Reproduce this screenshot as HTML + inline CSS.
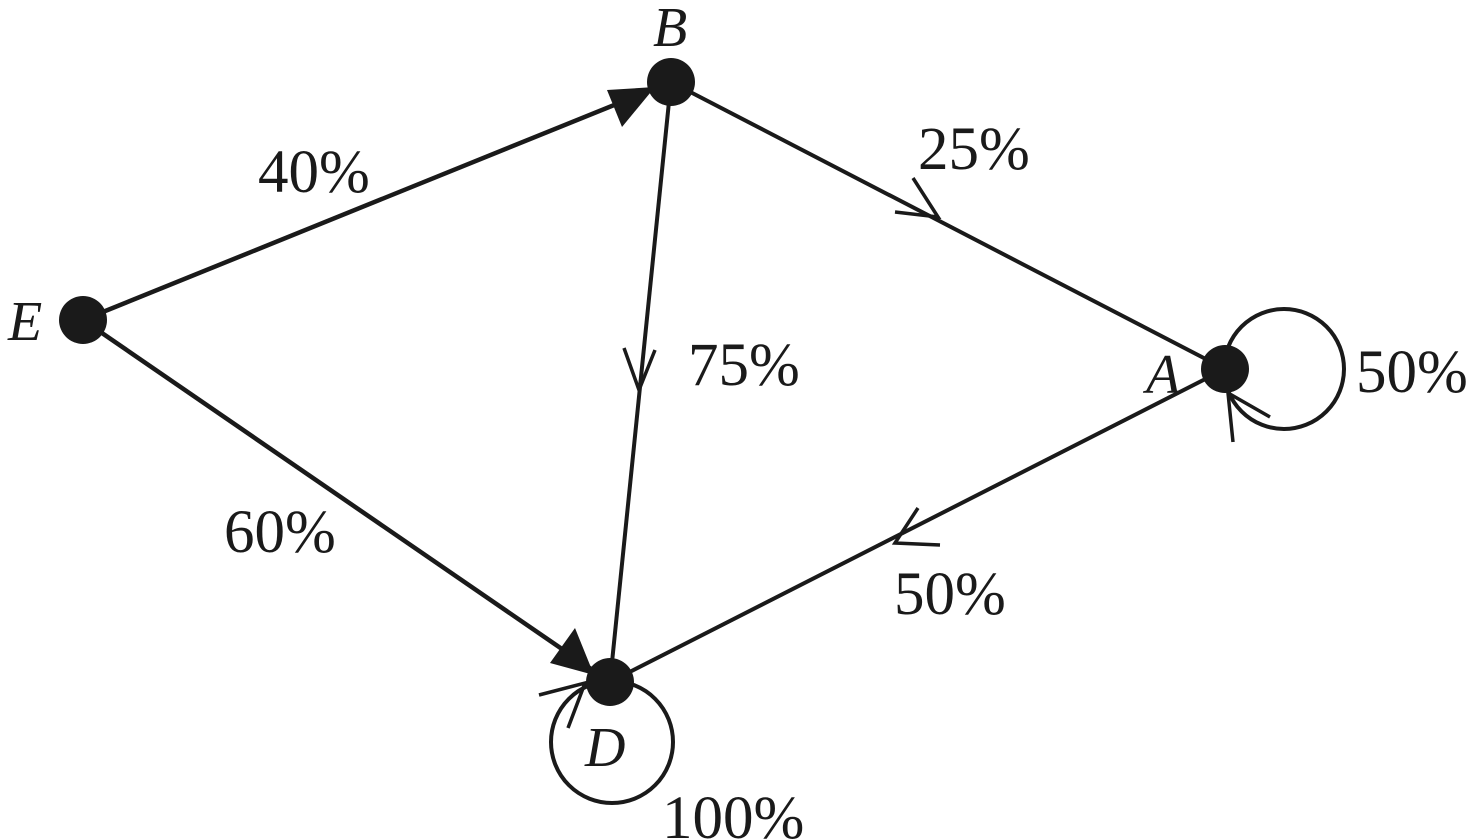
<!DOCTYPE html>
<html><head><style>body{margin:0;background:#fff}svg{display:block}</style></head><body>
<svg width="1474" height="840" viewBox="0 0 1474 840" xmlns="http://www.w3.org/2000/svg">
<g stroke="#1a1a1a" stroke-width="4.5" fill="none">
<line x1="83" y1="320" x2="671" y2="82"/>
<line x1="83" y1="320" x2="610" y2="682"/>
<line x1="671" y1="82" x2="610" y2="682" stroke-width="4"/>
<line x1="671" y1="82" x2="1225" y2="369" stroke-width="4"/>
<line x1="1225" y1="369" x2="610" y2="682" stroke-width="4"/>
<circle cx="1284" cy="369" r="60" stroke-width="4"/>
<circle cx="612" cy="742" r="61" stroke-width="4"/>
<polyline points="895,212 938,217 913,178" stroke-width="3.5"/>
<polyline points="624,348 639,390 655,350" stroke-width="3.5"/>
<polyline points="918,508 895,543 940,545" stroke-width="3.5"/>
<polyline points="1270,417 1228,393 1233,442" stroke-width="3.5"/>
<polyline points="539,695 585,683 568,728" stroke-width="3.5"/>
</g>
<polygon points="655,87 622,127 607,90" fill="#1a1a1a"/>
<polygon points="594,675 550,663 575,628" fill="#1a1a1a"/>
<g fill="#1a1a1a">
<circle cx="83" cy="320" r="24"/>
<circle cx="671" cy="82" r="24"/>
<circle cx="1225" cy="369" r="24"/>
<circle cx="610" cy="682" r="24"/>
</g>
<g font-family="Liberation Serif, serif" font-size="61" fill="#1a1a1a">
<text x="258" y="192">40%</text>
<text x="918" y="169">25%</text>
<text x="688" y="385">75%</text>
<text x="1356" y="392">50%</text>
<text x="224" y="552">60%</text>
<text x="894" y="614">50%</text>
<text x="662" y="838">100%</text>
<g font-style="italic" font-size="56">
<text x="653" y="46">B</text>
<text x="8" y="340">E</text>
<text x="1146" y="393">A</text>
<text x="585" y="766">D</text>
</g>
</g>
</svg>
</body></html>
